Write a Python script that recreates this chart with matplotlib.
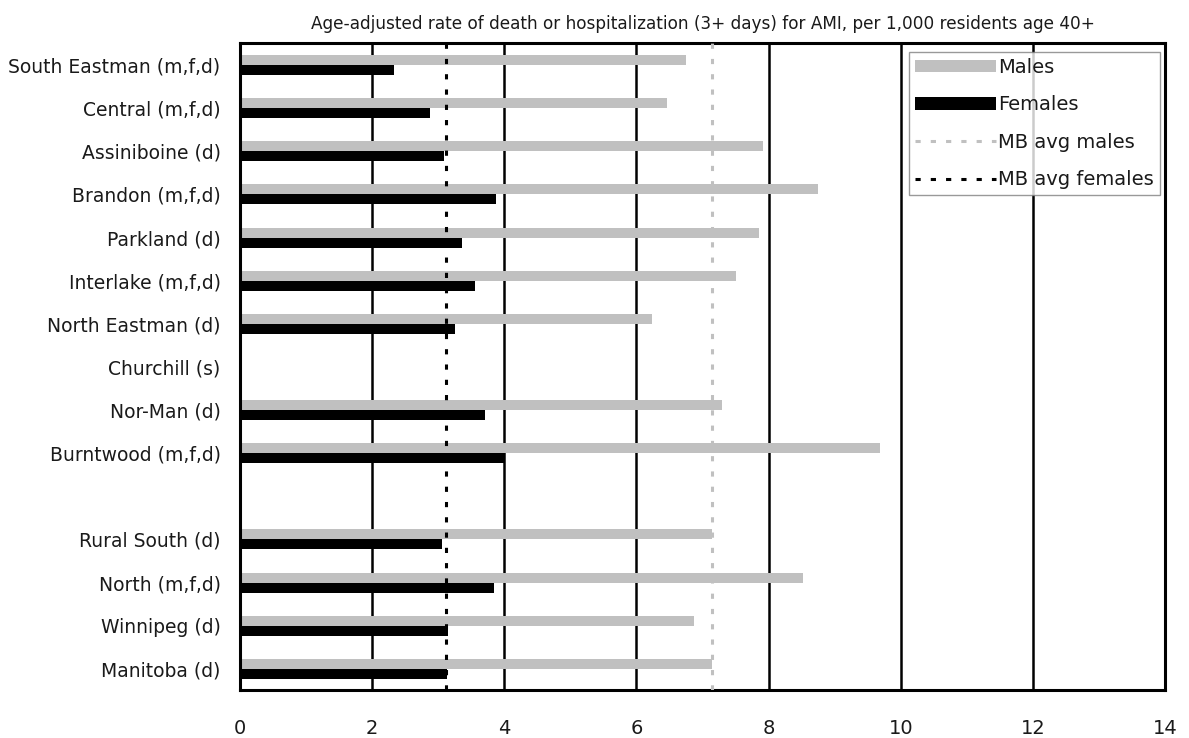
import matplotlib
matplotlib.use("Agg")
import matplotlib.pyplot as plt
import numpy as np

plt.rcParams['font.family'] = ['DejaVu Sans']

categories = ["South Eastman (m,f,d)", "Central (m,f,d)", "Assiniboine (d)",
              "Brandon (m,f,d)", "Parkland (d)", "Interlake (m,f,d)",
              "North Eastman (d)", "Churchill (s)", "Nor-Man (d)",
              "Burntwood (m,f,d)", "", "Rural South (d)", "North (m,f,d)",
              "Winnipeg (d)", "Manitoba (d)"]
males = [6.75, 6.47, 7.92, 8.75, 7.85, 7.51, 6.24, np.nan, 7.29, 9.69,
         np.nan, 7.14, 8.52, 6.87, 7.15]
females = [2.33, 2.87, 3.09, 3.88, 3.36, 3.56, 3.25, np.nan, 3.71, 4.00,
           np.nan, 3.05, 3.85, 3.15, 3.13]
mb_avg_males = 7.15
mb_avg_females = 3.12
xticks = [0, 2, 4, 6, 8, 10, 12, 14]
title = "Age-adjusted rate of death or hospitalization (3+ days) for AMI, per 1,000 residents age 40+"

fig = plt.figure(figsize=(11.89, 7.38), dpi=100)
ax = fig.add_axes([240/1189, 1-690/738, (1165-240)/1189, (690-43)/738])

y = np.arange(len(categories))
h = 0.232
b1 = ax.barh(y - h/2, males, height=h, color='#c0c0c0', label='Males', zorder=2)
b2 = ax.barh(y + h/2, females, height=h, color='black', label='Females', zorder=2)
l1 = ax.axvline(mb_avg_males, color='#c0c0c0', linestyle=(0, (1.7, 3.3)), linewidth=2.2,
                label='MB avg males', zorder=3)
l2 = ax.axvline(mb_avg_females, color='black', linestyle=(0, (1.7, 3.3)), linewidth=2.2,
                label='MB avg females', zorder=3)

ax.set_xlim(0, 14)
ax.set_ylim(len(categories) - 0.51, -0.51)
ax.set_xticks(xticks)
ax.set_xticklabels([str(t) for t in xticks], fontsize=14)
ax.set_yticks(y)
ax.set_yticklabels(categories, fontsize=13.5)
ax.tick_params(axis='both', length=0, colors='#1a1a1a')
ax.tick_params(axis='x', pad=21)
ax.tick_params(axis='y', pad=14)
for t in [2, 4, 6, 8, 10, 12]:
    ax.axvline(t, color='black', linewidth=1.8, zorder=1)
for s in ax.spines.values():
    s.set_linewidth(2.2)
    s.set_color('black')

ax.set_title(title, fontsize=12.2, pad=10, color='#1a1a1a')

leg = ax.legend(handles=[b1, b2, l1, l2], loc='upper right',
                bbox_to_anchor=(1 - 5/925, 1 - 9/647), fontsize=14,
                frameon=True, fancybox=False, edgecolor='#808080',
                handlelength=4.2, handleheight=0.6, handletextpad=0.1,
                borderpad=0.3, labelspacing=0.95, borderaxespad=0.0)
leg.get_frame().set_linewidth(1.0)
for t in leg.get_texts():
    t.set_color('#1a1a1a')

fig.savefig("out.png", dpi=100)
